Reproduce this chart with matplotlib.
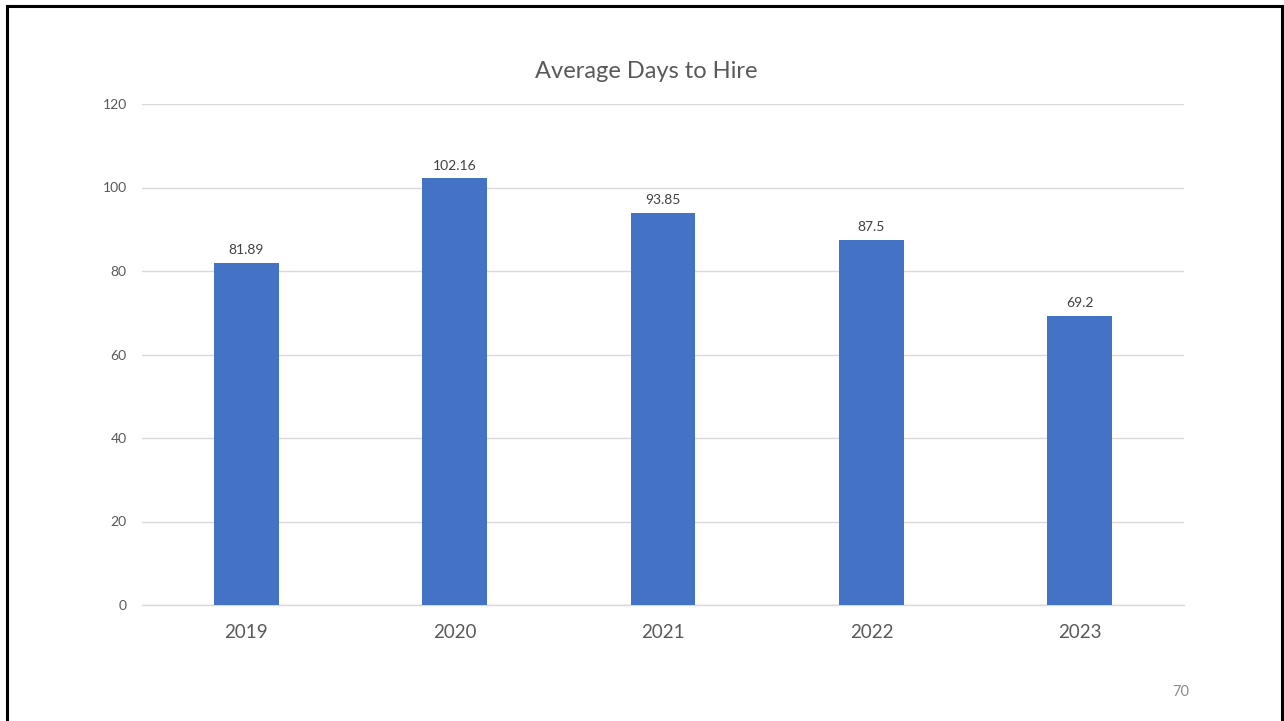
import matplotlib
matplotlib.use("Agg")
import matplotlib.pyplot as plt

years = ["2019", "2020", "2021", "2022", "2023"]
avg_days = [81.89, 102.16, 93.85, 87.5, 69.2]
y_ticks = [0, 20, 40, 60, 80, 100, 120]

plt.rcParams['font.family'] = ['Lato', 'DejaVu Sans']

fig = plt.figure(figsize=(12.84, 7.21), dpi=100)
ax = fig.add_axes([142 / 1284, 1 - 605 / 721, (1184 - 142) / 1284, (605 - 104) / 721])

x = range(len(years))
bars = ax.bar(x, avg_days, width=0.31, color="#4472C4", zorder=3)

# value labels on top of bars
for xi, v in zip(x, avg_days):
    ax.annotate(f"{v:g}", (xi, v), xytext=(0, 5), textcoords="offset points",
                ha="center", va="bottom", fontsize=10, color="#404040")

ax.set_xlim(-0.5, len(years) - 0.5)
ax.set_ylim(0, 120)
ax.set_yticks(y_ticks)
ax.set_xticks(list(x))
ax.set_xticklabels(years, fontsize=13.5, color="#595959")
ax.tick_params(axis="y", labelsize=10, labelcolor="#595959", length=0, pad=11)
ax.tick_params(axis="x", length=0, pad=14)
ax.grid(axis="y", color="#D9D9D9", linewidth=1, zorder=0)
ax.axhline(0, color="#D9D9D9", linewidth=1, zorder=2, clip_on=False)
for s in ["top", "right", "left", "bottom"]:
    ax.spines[s].set_visible(False)

fig.text(646 / 1284, 1 - 71 / 721, "Average Days to Hire", ha="center", va="center",
         fontsize=17, color="#595959")
fig.text(1181 / 1284, 1 - 692 / 721, "70", ha="center", va="center",
         fontsize=10.5, color="#8C8C8C")

# slide frame (left, top, right)
fig.add_artist(plt.Line2D([7 / 1284, 7 / 1284], [0, 1 - 6 / 721], color="black", lw=2.2))
fig.add_artist(plt.Line2D([7 / 1284, 1282 / 1284], [1 - 6 / 721, 1 - 6 / 721], color="black", lw=2.2))
fig.add_artist(plt.Line2D([1282 / 1284, 1282 / 1284], [0, 1 - 6 / 721], color="black", lw=2.2))

fig.savefig("out.png", dpi=100, facecolor="white")
